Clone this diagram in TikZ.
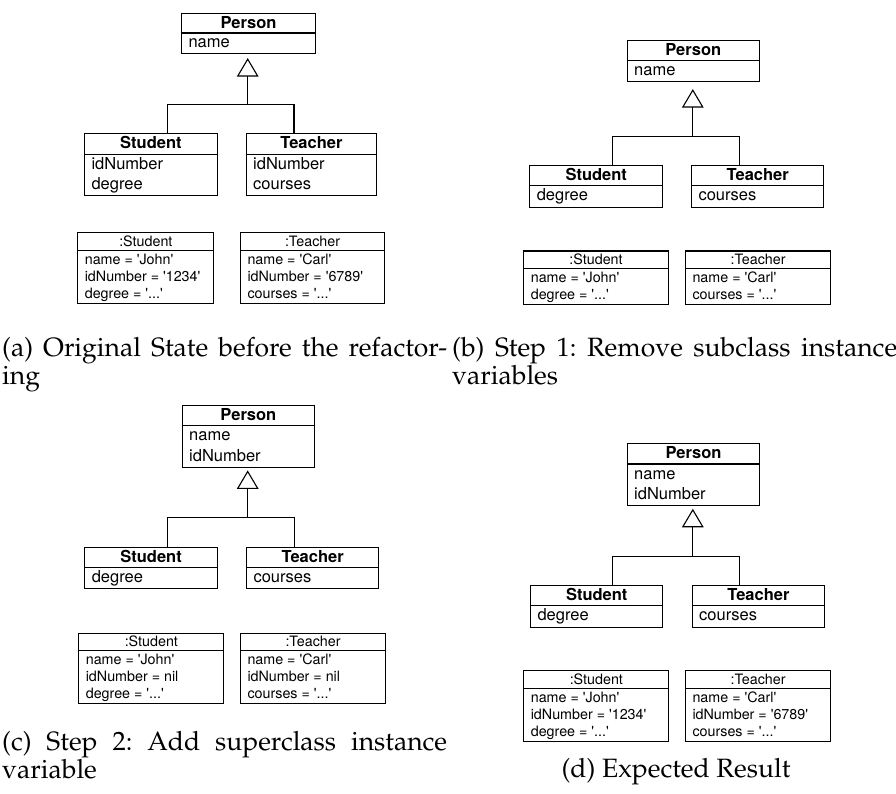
\documentclass[tikz,border=0pt]{standalone}
\usepackage[T1,TU]{fontenc}
\usepackage{fontspec}
\usetikzlibrary{arrows.meta,calc}
\newfontfamily\heros{TeX Gyre Heros}
\newcommand\palfont{\fontencoding{T1}\fontfamily{ppl}\selectfont}
\frenchspacing
\tikzset{
 umlbox/.style={draw, line width=1.1pt, inner sep=0pt, rectangle},
 sepline/.style={line width=1.1pt},
 clshead/.style={font=\heros\bfseries\fontsize{16.5}{18}\selectfont, inner sep=0pt, anchor=base},
 clsattr/.style={font=\heros\fontsize{16.5}{18}\selectfont, inner sep=0pt, anchor=base west},
 objhead/.style={font=\heros\fontsize{14.3}{16}\selectfont, inner sep=0pt, anchor=base},
 objattr/.style={font=\heros\fontsize{14.3}{16}\selectfont, inner sep=0pt, anchor=base west},
 gen/.style={line width=1.1pt, -{Triangle[open, length=18.5pt, width=21.6pt, line width=1.1pt]}},
 link/.style={line width=1.1pt},
 captfont/.style={font=\palfont\frenchspacing\fontsize{26.5}{28}\selectfont, inner sep=0pt},
 capt/.style={captfont, text width=445pt, align=justify, anchor=base west},
}
% box: name, left, top, width, height, header height
\newcommand\ubox[6]{%
 \node[umlbox, minimum width=#4pt, minimum height=#5pt, anchor=north west] (#1) at (#2,#3) {};
 \draw[sepline] ([yshift=-#6pt]#1.north west) -- ([yshift=-#6pt]#1.north east);
}
% class header / attribute: box, id, baseline offset, text
\newcommand\chead[2]{\node[clshead] (#1-h) at ($(#1.north)+(0,15.5)$) {#2};}
\newcommand\cattr[4]{\node[clsattr] (#1-#2) at ($(#1.north west)+(7.3,#3)$) {#4};}
\newcommand\ohead[2]{\node[objhead] (#1-h) at ($(#1.north)+(0,14.4)$) {#2};}
\newcommand\oattr[4]{\node[objattr] (#1-#2) at ($(#1.north west)+(7.3,#3)$) {#4};}
\begin{document}
\begin{tikzpicture}[x=1pt,y=-1pt]
\useasboundingbox (0,0) rectangle (896,794);

%% ---------------- (a) ----------------
\ubox{pa}{181}{13}{134}{40}{20}
\chead{pa}{Person}
\cattr{pa}{1}{35}{name}
\ubox{sa}{84}{132.7}{132.7}{62.3}{21.6}
\chead{sa}{Student}
\cattr{sa}{1}{36.6}{idNumber}
\cattr{sa}{2}{57}{degree}
\ubox{ta}{245.7}{132.7}{130.3}{62.3}{21.6}
\chead{ta}{Teacher}
\cattr{ta}{1}{36.6}{idNumber}
\cattr{ta}{2}{57}{courses}
\coordinate (ja) at (247.7,104.3);
\draw[gen, shorten >=4pt] (ja) -- (ja |- pa.south);
\draw[link] ($(sa.north west)+(83.3,0)$) |- (ja) -| ($(ta.north west)+(48.3,0)$);
\ubox{soa}{77.3}{232.3}{136}{70.4}{18.4}
\ohead{soa}{:Student}
\oattr{soa}{1}{31.7}{name = 'John'}
\oattr{soa}{2}{49}{idNumber = '1234'}
\oattr{soa}{3}{66.3}{degree = '...'}
\ubox{toa}{240}{232.3}{144}{70.4}{18.4}
\ohead{toa}{:Teacher}
\oattr{toa}{1}{31.7}{name = 'Carl'}
\oattr{toa}{2}{49}{idNumber = '6789'}
\oattr{toa}{3}{66.3}{courses = '...'}

%% ---------------- (b) ----------------
\ubox{pb}{626.7}{40}{132}{41}{20.7}
\chead{pb}{Person}
\cattr{pb}{1}{35.7}{name}
\ubox{sb}{529.3}{165}{132.7}{41.7}{20.7}
\chead{sb}{Student}
\cattr{sb}{1}{35.7}{degree}
\ubox{tb}{691}{165}{132.3}{41.7}{20.7}
\chead{tb}{Teacher}
\cattr{tb}{1}{35.7}{courses}
\coordinate (jb) at (692.8,136.7);
\draw[gen, shorten >=7pt] (jb) -- (jb |- pb.south);
\draw[link] ($(sb.north west)+(83,0)$) |- (jb) -| ($(tb.north west)+(48.3,0)$);
\ubox{sob}{523.3}{250.5}{144.4}{53.2}{18.3}
\ohead{sob}{:Student}
\oattr{sob}{1}{31.6}{name = 'John'}
\oattr{sob}{2}{48.9}{degree = '...'}
\ubox{tob}{685}{250.5}{145}{53.2}{18.3}
\ohead{tob}{:Teacher}
\oattr{tob}{1}{31.6}{name = 'Carl'}
\oattr{tob}{2}{48.9}{courses = '...'}

%% ---------------- (c) ----------------
\ubox{pc}{181.7}{405}{132.3}{61.7}{20.7}
\chead{pc}{Person}
\cattr{pc}{1}{35.7}{name}
\cattr{pc}{2}{56.1}{idNumber}
\ubox{sc}{84.3}{546.7}{132.4}{41.6}{21}
\chead{sc}{Student}
\cattr{sc}{1}{36}{degree}
\ubox{tc}{246}{546.7}{132.3}{41.6}{21}
\chead{tc}{Teacher}
\cattr{tc}{1}{36}{courses}
\coordinate (jc) at (247.7,517.7);
\draw[gen, shorten >=2.6pt] (jc) -- (jc |- pc.south);
\draw[link] ($(sc.north west)+(83,0)$) |- (jc) -| ($(tc.north west)+(48.3,0)$);
\ubox{soc}{78.3}{632.5}{145}{70.6}{18.2}
\ohead{soc}{:Student}
\oattr{soc}{1}{31.5}{name = 'John'}
\oattr{soc}{2}{48.8}{idNumber = nil}
\oattr{soc}{3}{66.1}{degree = '...'}
\ubox{toc}{240}{632.5}{145}{70.6}{18.2}
\ohead{toc}{:Teacher}
\oattr{toc}{1}{31.5}{name = 'Carl'}
\oattr{toc}{2}{48.8}{idNumber = nil}
\oattr{toc}{3}{66.1}{courses = '...'}

%% ---------------- (d) ----------------
\ubox{pd}{626.7}{443.3}{132.6}{61.7}{20.7}
\chead{pd}{Person}
\cattr{pd}{1}{35.7}{name}
\cattr{pd}{2}{56.1}{idNumber}
\ubox{sd}{530}{585}{132.3}{41.7}{20.7}
\chead{sd}{Student}
\cattr{sd}{1}{35.7}{degree}
\ubox{td}{691.7}{585}{132.3}{41.7}{20.7}
\chead{td}{Teacher}
\cattr{td}{1}{35.7}{courses}
\coordinate (jd) at (692.8,556.7);
\draw[gen, shorten >=2.7pt] (jd) -- (jd |- pd.south);
\draw[link] ($(sd.north west)+(82.3,0)$) |- (jd) -| ($(td.north west)+(47.6,0)$);
\ubox{sod}{523.3}{670.3}{145}{70.2}{18.6}
\ohead{sod}{:Student}
\oattr{sod}{1}{31.9}{name = 'John'}
\oattr{sod}{2}{49.2}{idNumber = '1234'}
\oattr{sod}{3}{66.5}{degree = '...'}
\ubox{tod}{685}{670.3}{145}{70.2}{18.6}
\ohead{tod}{:Teacher}
\oattr{tod}{1}{31.9}{name = 'Carl'}
\oattr{tod}{2}{49.2}{idNumber = '6789'}
\oattr{tod}{3}{66.5}{courses = '...'}

%% ---------------- captions ----------------
\node[capt] (capa) at (2,356) {(a) Original State before the refactor-\linebreak ing};
\node[capt] (capb) at (452,356) {(b) Step 1: Remove subclass instance\linebreak variables};
\node[capt] (capc) at (2,750) {(c) Step 2: Add superclass instance\linebreak variable};
\node[captfont, anchor=base] (capd) at (676,777) {(d) Expected Result};
\end{tikzpicture}
\end{document}
